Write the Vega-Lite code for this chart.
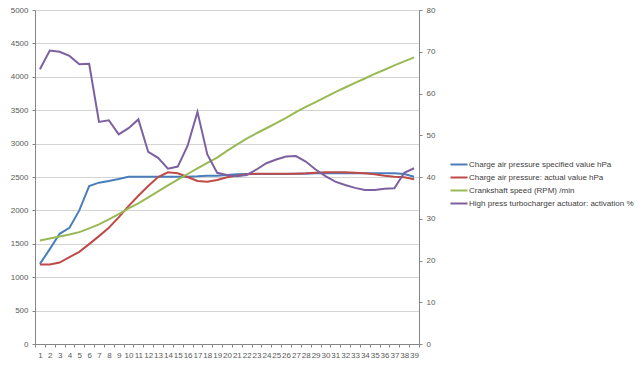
{
  "$schema": "https://vega.github.io/schema/vega-lite/v6.json",
  "width": 384,
  "height": 334,
  "autosize": {"type": "none"},
  "padding": {"left": 35, "top": 10, "right": 221, "bottom": 29},
  "background": "white",
  "config": {
    "view": {"stroke": null},
    "font": "Liberation Sans, sans-serif",
    "axis": {
      "domainColor": "#868686",
      "tickColor": "#868686",
      "tickSize": 3,
      "labelColor": "#595959",
      "labelFontSize": 8,
      "labelFont": "Liberation Sans, sans-serif",
      "gridColor": "#d4d4d4",
      "title": null
    },
    "legend": {
      "labelFont": "Liberation Sans, sans-serif",
      "labelFontSize": 8,
      "labelColor": "#404040",
      "labelLimit": 400
    }
  },
  "data": {
    "values": [
      {"x": 1, "s": 1200, "a": 1190, "r": 1550, "h": 65.8},
      {"x": 2, "s": 1420, "a": 1190, "r": 1580, "h": 70.3},
      {"x": 3, "s": 1650, "a": 1220, "r": 1610, "h": 70.0},
      {"x": 4, "s": 1740, "a": 1300, "r": 1640, "h": 69.0},
      {"x": 5, "s": 2000, "a": 1380, "r": 1675, "h": 67.0},
      {"x": 6, "s": 2365, "a": 1495, "r": 1730, "h": 67.1},
      {"x": 7, "s": 2415, "a": 1615, "r": 1790, "h": 53.2},
      {"x": 8, "s": 2440, "a": 1740, "r": 1865, "h": 53.6},
      {"x": 9, "s": 2470, "a": 1895, "r": 1945, "h": 50.2},
      {"x": 10, "s": 2505, "a": 2065, "r": 2030, "h": 51.7},
      {"x": 11, "s": 2505, "a": 2220, "r": 2105, "h": 53.8},
      {"x": 12, "s": 2505, "a": 2365, "r": 2195, "h": 46.0},
      {"x": 13, "s": 2505, "a": 2500, "r": 2285, "h": 44.6},
      {"x": 14, "s": 2505, "a": 2570, "r": 2375, "h": 42.0},
      {"x": 15, "s": 2505, "a": 2555, "r": 2460, "h": 42.5},
      {"x": 16, "s": 2505, "a": 2500, "r": 2545, "h": 47.5},
      {"x": 17, "s": 2510, "a": 2440, "r": 2630, "h": 55.6},
      {"x": 18, "s": 2520, "a": 2430, "r": 2710, "h": 45.4},
      {"x": 19, "s": 2520, "a": 2455, "r": 2790, "h": 41.0},
      {"x": 20, "s": 2530, "a": 2495, "r": 2890, "h": 40.5},
      {"x": 21, "s": 2540, "a": 2520, "r": 2985, "h": 40.2},
      {"x": 22, "s": 2545, "a": 2540, "r": 3075, "h": 40.5},
      {"x": 23, "s": 2545, "a": 2550, "r": 3155, "h": 41.8},
      {"x": 24, "s": 2545, "a": 2550, "r": 3230, "h": 43.3},
      {"x": 25, "s": 2545, "a": 2550, "r": 3305, "h": 44.2},
      {"x": 26, "s": 2545, "a": 2550, "r": 3385, "h": 44.9},
      {"x": 27, "s": 2550, "a": 2550, "r": 3470, "h": 45.0},
      {"x": 28, "s": 2550, "a": 2555, "r": 3550, "h": 43.7},
      {"x": 29, "s": 2555, "a": 2565, "r": 3620, "h": 41.8},
      {"x": 30, "s": 2555, "a": 2570, "r": 3695, "h": 40.2},
      {"x": 31, "s": 2555, "a": 2570, "r": 3770, "h": 38.9},
      {"x": 32, "s": 2555, "a": 2570, "r": 3840, "h": 38.1},
      {"x": 33, "s": 2555, "a": 2565, "r": 3910, "h": 37.4},
      {"x": 34, "s": 2555, "a": 2555, "r": 3975, "h": 36.9},
      {"x": 35, "s": 2555, "a": 2540, "r": 4045, "h": 36.9},
      {"x": 36, "s": 2555, "a": 2520, "r": 4105, "h": 37.2},
      {"x": 37, "s": 2555, "a": 2505, "r": 4170, "h": 37.3},
      {"x": 38, "s": 2545, "a": 2495, "r": 4230, "h": 41.0},
      {"x": 39, "s": 2505, "a": 2465, "r": 4290, "h": 42.1}
    ]
  },
  "encoding": {
    "x": {
      "field": "x",
      "type": "ordinal",
      "bandPosition": 0.5,
      "scale": {"type": "band", "paddingInner": 0, "paddingOuter": 0},
      "axis": {
        "labelAngle": 0,
        "tickBand": "extent",
        "grid": false,
        "labelPadding": 4,
        "labelOverlap": false,
        "labelFlush": false
      }
    }
  },
  "layer": [
    {
      "transform": [{"fold": ["s", "a", "r"], "as": ["k", "v"]}],
      "mark": {"type": "line", "strokeWidth": 2},
      "encoding": {
        "y": {
          "field": "v",
          "type": "quantitative",
          "scale": {"domain": [0, 5000], "nice": false},
          "axis": {
            "values": [0, 500, 1000, 1500, 2000, 2500, 3000, 3500, 4000, 4500, 5000],
            "format": "d",
            "grid": true,
            "labelPadding": 4,
            "orient": "left"
          }
        },
        "color": {
          "field": "k",
          "type": "nominal",
          "scale": {
            "domain": ["s", "a", "r", "h"],
            "range": ["#4A7EBB", "#BE4B48", "#98B954", "#7D60A0"]
          },
          "legend": {
            "title": null,
            "orient": "none",
            "legendX": 415,
            "legendY": 145.5,
            "symbolType": "M-1.1,0H1.1",
            "symbolSize": 240,
            "symbolStrokeWidth": 2,
            "labelOffset": 1,
            "rowPadding": 0,
            "labelExpr": "datum.value == 's' ? 'Charge air pressure specified value  hPa' : datum.value == 'a' ? 'Charge air pressure: actual value  hPa' : datum.value == 'r' ? 'Crankshaft speed (RPM)  /min' : 'High press turbocharger actuator: activation  %'"
          }
        }
      }
    },
    {
      "mark": {"type": "line", "strokeWidth": 2},
      "encoding": {
        "y": {
          "field": "h",
          "type": "quantitative",
          "scale": {"domain": [0, 80], "nice": false},
          "axis": {
            "values": [0, 10, 20, 30, 40, 50, 60, 70, 80],
            "grid": false,
            "labelPadding": 4,
            "orient": "right"
          }
        },
        "color": {"datum": "h"}
      }
    }
  ],
  "resolve": {"scale": {"y": "independent"}}
}
